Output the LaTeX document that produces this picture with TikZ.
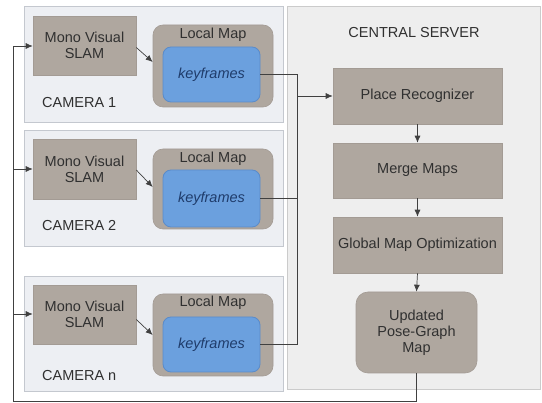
\documentclass[tikz,border=0pt]{standalone}
\usepackage{fontspec}
\setmainfont{Liberation Sans}
\usetikzlibrary{arrows.meta}
\definecolor{camfill}{HTML}{EDEFF3}
\definecolor{camdraw}{HTML}{C4C8CF}
\definecolor{srvfill}{HTML}{EEEEEE}
\definecolor{srvdraw}{HTML}{CBCBCB}
\definecolor{taupe}{HTML}{AFA79F}
\definecolor{taupedraw}{HTML}{A39B94}
\definecolor{kfblue}{HTML}{6BA0DE}
\definecolor{kfdraw}{HTML}{5A8BC9}
\definecolor{kftext}{HTML}{1F3C6B}
\definecolor{txt}{HTML}{303030}
\definecolor{wire}{HTML}{404040}
\begin{document}
\begin{tikzpicture}[x=1pt,y=1pt,
  font=\fontsize{14.5}{16}\selectfont,
  every node/.style={text=txt, inner sep=0pt},
  campanel/.style={draw=camdraw, fill=camfill, line width=0.8pt},
  srvpanel/.style={draw=srvdraw, fill=srvfill, line width=0.8pt},
  graybox/.style={draw=taupedraw, fill=taupe, line width=0.6pt, align=center},
  localbox/.style={draw=taupedraw, fill=taupe, line width=0.6pt, rounded corners=10pt},
  kfbox/.style={draw=kfdraw, fill=kfblue, line width=0.8pt, rounded corners=8pt, text=kftext, font=\fontsize{14.5}{16}\selectfont\itshape},
  wireline/.style={draw=wire, line width=0.7pt},
  arr/.style={wireline, -{Latex[length=7pt,width=6pt]}}
]
\useasboundingbox (0,0) rectangle (542,-403);
\fill[white] (0,0) rectangle (542,-403);

% camera panels
\node[campanel, minimum width=259pt, minimum height=116pt] (cam1) at (153.5,-64) {};
\node[campanel, minimum width=259pt, minimum height=116pt] (cam2) at (153.5,-188) {};
\node[campanel, minimum width=259pt, minimum height=115pt] (camn) at (153.5,-333.5) {};
% central server
\node[srvpanel, minimum width=253pt, minimum height=383pt] (srv) at (413.5,-197.5) {};
\node (srvlab) at (414,-33) {CENTRAL SERVER};

% camera 1
\node[graybox, minimum width=103pt, minimum height=59pt] (slam1) at (84.5,-45.5) {Mono Visual\\SLAM};
\node[localbox, minimum width=120pt, minimum height=82pt] (local1) at (213,-66) {};
\node (lm1) at (213,-35) {Local Map};
\node[kfbox, minimum width=97pt, minimum height=55pt] (kf1) at (211.5,-74.5) {keyframes};
\node[anchor=west] (c1) at (42,-103) {CAMERA 1};

% camera 2
\node[graybox, minimum width=103pt, minimum height=60pt] (slam2) at (84.5,-169) {Mono Visual\\SLAM};
\node[localbox, minimum width=120pt, minimum height=80pt] (local2) at (213,-189) {};
\node (lm2) at (213,-159) {Local Map};
\node[kfbox, minimum width=97pt, minimum height=57pt] (kf2) at (211.5,-198.5) {keyframes};
\node[anchor=west] (c2) at (42,-226) {CAMERA 2};

% camera n
\node[graybox, minimum width=103pt, minimum height=59pt] (slamn) at (84.5,-314.5) {Mono Visual\\SLAM};
\node[localbox, minimum width=120pt, minimum height=82pt] (localn) at (213,-335) {};
\node (lmn) at (213,-303) {Local Map};
\node[kfbox, minimum width=97pt, minimum height=55pt] (kfn) at (211.5,-344.5) {keyframes};
\node[anchor=west] (cn) at (42,-376) {CAMERA n};

% central boxes
\node[graybox, minimum width=169pt, minimum height=56pt] (pr) at (417.5,-96) {Place Recognizer};
\node[graybox, minimum width=169pt, minimum height=55pt] (mm) at (417.5,-170.5) {Merge Maps};
\node[graybox, minimum width=169pt, minimum height=56pt] (gmo) at (417.5,-245) {Global Map Optimization};
\node[graybox, rounded corners=12pt, minimum width=121pt, minimum height=81pt] (upd) at (416.5,-332.5) {Updated\\Pose-Graph\\Map};

% SLAM -> local map
\draw[arr] ([yshift=-2pt]slam1.east) -- ([yshift=4pt]local1.west);
\draw[arr] ([yshift=-1pt]slam2.east) -- ([yshift=2pt]local2.west);
\draw[arr] ([yshift=-5pt]slamn.east) -- ([yshift=0pt]localn.west);

% keyframes -> bus -> place recognizer
\coordinate (bustop) at (297,-74.5);
\coordinate (busmid) at (297,-96);
\coordinate (busbot) at (297,-344.5);
\draw[wireline] (kf1.east) -- (bustop) -- (busbot) -- (kfn.east);
\draw[wireline] (kf2.east) -- (kf2.east -| bustop);
\draw[arr] (busmid) -- (pr.west);

% central chain
\draw[arr] (pr.south) -- (mm.north);
\draw[arr] (mm.south) -- (gmo.north);
\draw[arr] (gmo.south) -- (upd.north);

% feedback loop
\coordinate (fbr) at (416.5,-401);
\coordinate (fbl) at (13,-401);
\coordinate (fbt) at (13,-46);
\draw[wireline] (upd.south) -- (fbr) -- (fbl) -- (fbt);
\draw[arr] (fbt) -- ([yshift=-0.5pt]slam1.west);
\draw[arr] (13,-169) -- (slam2.west);
\draw[arr] (13,-314) -- ([yshift=0.5pt]slamn.west);
\end{tikzpicture}
\end{document}
